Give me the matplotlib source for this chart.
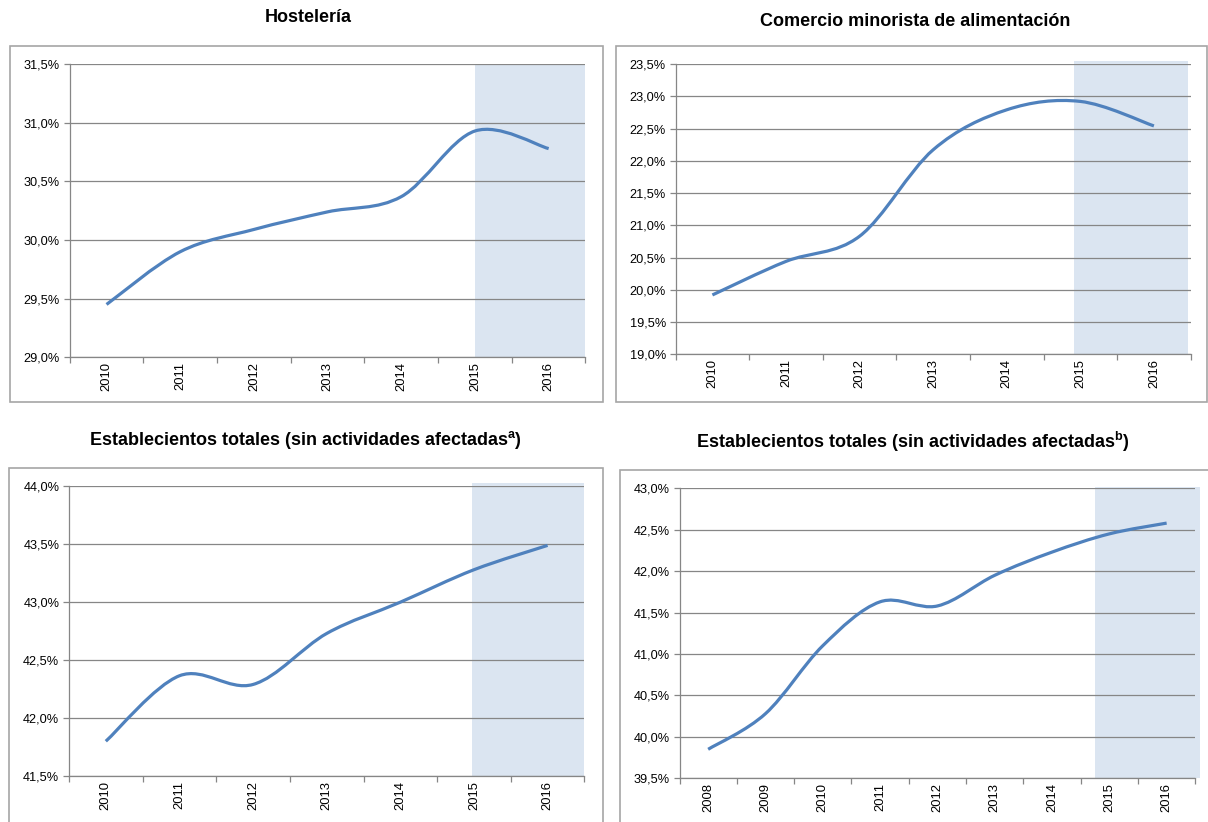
import matplotlib
matplotlib.use('Agg')
import matplotlib.pyplot as plt
from matplotlib.path import Path
from matplotlib.patches import PathPatch, Rectangle
from matplotlib.ticker import FuncFormatter, FixedLocator
import numpy as np

plt.rcParams['font.family'] = ['Liberation Sans', 'DejaVu Sans']
plt.rcParams['mathtext.fontset'] = 'custom'
plt.rcParams['mathtext.rm'] = 'Liberation Sans'
plt.rcParams['mathtext.bf'] = 'Liberation Sans:bold'

# ---------------- data ----------------
years_a = ['2010', '2011', '2012', '2013', '2014', '2015', '2016']
years_b = ['2008', '2009', '2010', '2011', '2012', '2013', '2014', '2015', '2016']

hosteleria = [29.45, 29.90, 30.09, 30.24, 30.37, 30.93, 30.78]
comercio = [19.92, 20.44, 20.83, 22.17, 22.79, 22.92, 22.54]
estab_a = [41.80, 42.365, 42.29, 42.73, 43.00, 43.28, 43.49]
estab_b = [39.85, 40.28, 41.10, 41.63, 41.58, 41.95, 42.23, 42.45, 42.58]

titles = ['Hostelería',
          'Comercio minorista de alimentación',
          r'Establecientos totales (sin actividades afectadas$^{\mathbf{a}}$)',
          r'Establecientos totales (sin actividades afectadas$^{\mathbf{b}}$)']

# ---------------- style ----------------
W, H = 1208, 822
fig = plt.figure(figsize=(W / 100, H / 100), dpi=100)

LINE = '#4F81BD'
SHADE = '#DBE5F1'
GRID = '#868686'
FRAME = '#A6A6A6'


def smooth_path(xs, ys):
    pts = np.column_stack([xs, ys]).astype(float)
    n = len(pts)
    verts = [pts[0]]
    codes = [Path.MOVETO]
    for i in range(n - 1):
        p0 = pts[i - 1] if i > 0 else pts[i]
        p1 = pts[i]
        p2 = pts[i + 1]
        p3 = pts[i + 2] if i + 2 < n else pts[i + 1]
        c1 = p1 + (p2 - p0) / 6.0
        c2 = p2 - (p3 - p1) / 6.0
        verts += [c1, c2, p2]
        codes += [Path.CURVE4] * 3
    return Path(verts, codes)


def pct(v, _):
    return f'{v:.1f}%'.replace('.', ',')


def panel(frame_px, ax_px, title, title_px, cats, vals, ylim, shade):
    fx0, fy0, fx1, fy1 = frame_px
    fig.patches.append(Rectangle((fx0 / W, 1 - fy1 / H), (fx1 - fx0) / W, (fy1 - fy0) / H,
                                 transform=fig.transFigure, fill=False,
                                 edgecolor=FRAME, lw=1.2, clip_on=False))
    fig.text(title_px[0] / W, 1 - title_px[1] / H, title, ha='center', va='center',
             fontsize=13, fontweight='bold')
    x0, y0, x1, y1 = ax_px
    ax = fig.add_axes([x0 / W, 1 - y1 / H, (x1 - x0) / W, (y1 - y0) / H])
    n = len(cats)
    xs = np.arange(n)
    ax.set_xlim(-0.5, n - 0.5)
    ax.set_ylim(*ylim)
    ax.set_facecolor('none')

    sx0, sx1, stop = shade
    ax.add_patch(Rectangle((sx0, ylim[0]), sx1 - sx0, stop - ylim[0], facecolor=SHADE,
                           edgecolor='none', zorder=0.5, clip_on=False))

    ax.yaxis.set_major_locator(FixedLocator(np.arange(ylim[0], ylim[1] + 1e-6, 0.5)))
    ax.yaxis.set_major_formatter(FuncFormatter(pct))
    ax.grid(axis='y', color=GRID, lw=0.9, zorder=1)
    ax.set_axisbelow(True)

    ax.set_xticks(xs)
    ax.set_xticklabels(cats, rotation=90)
    ax.set_xticks(np.arange(n + 1) - 0.5, minor=True)
    ax.tick_params(axis='x', which='major', length=0, pad=3.5, labelsize=9.4)
    ax.tick_params(axis='x', which='minor', length=4, color=GRID, width=0.9)
    ax.tick_params(axis='y', length=4, color=GRID, width=0.9, pad=3, labelsize=9.2)

    for s in ('top', 'right'):
        ax.spines[s].set_visible(False)
    for s in ('left', 'bottom'):
        ax.spines[s].set_color(GRID)
        ax.spines[s].set_linewidth(0.9)
        ax.spines[s].set_zorder(2)

    ax.add_patch(PathPatch(smooth_path(xs, vals), facecolor='none', edgecolor=LINE,
                           lw=2.3, capstyle='butt', zorder=3))
    return ax


panel((10, 46, 603, 402), (69.7, 64.2, 585.5, 357.2), titles[0], (308, 18),
      years_a, hosteleria, (29.0, 31.5), (5.0, 6.5, 31.5))
panel((616, 46, 1207, 402), (675.6, 64.0, 1190.7, 354.3), titles[1], (915, 22),
      years_a, comercio, (19.0, 23.5), (4.92, 6.46, 23.55))
panel((9, 468, 603, 830), (69.0, 486.3, 584.4, 776.0), titles[2], (305, 440),
      years_a, estab_a, (41.5, 44.0), (4.97, 6.5, 44.03))
panel((620, 470, 1215, 830), (679.5, 488.3, 1195.3, 778.3), titles[3], (913, 442),
      years_b, estab_b, (39.5, 43.0), (6.75, 8.59, 43.02))

fig.savefig('out.png', dpi=100)
